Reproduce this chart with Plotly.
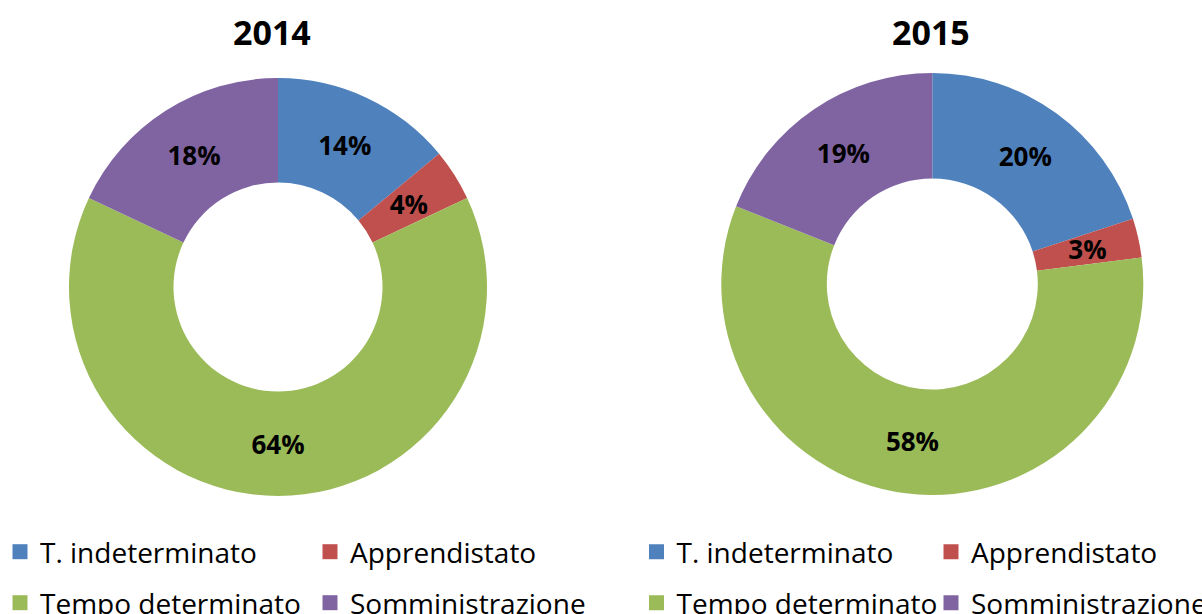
import plotly.graph_objects as go

categories = ["T. indeterminato", "Apprendistato", "Tempo determinato", "Somministrazione"]
years = ["2014", "2015"]
values_2014 = [14, 4, 64, 18]
values_2015 = [20, 3, 58, 19]
colors = ["#4F81BD", "#C0504D", "#9BBB59", "#8064A2"]

W, H = 1202, 614

def px_x(v):
    return v / W

def px_y(v):
    return 1 - v / H

# pie geometry (pixels): center x, center y, outer radius
pie_geo = [(278, 287, 209), (932.3, 284, 211)]
# radius / hole of the thin text-only ring used for the labels of narrow slices
label_ring = [(167.6, 0.85), (171.9, 0.85)]
title_pos = [(272, 32), (931, 32)]
legend_left = [0, 636.5]
legend_entry = [265, 249.5]
legend_rows_y = [552, 603]
SMALL = 5  # slices below this share get their label from the ring trace

LABEL_FONT = dict(family="Open Sans", size=26, color="black", weight="bold")

fig = go.Figure()

for i, (yr, vals) in enumerate(zip(years, [values_2014, values_2015])):
    cx, cy, r = pie_geo[i]
    big_tpl = ["%{percent:.0%}" if v >= SMALL else "" for v in vals]
    small_tpl = ["%{percent:.0%}" if v < SMALL else "" for v in vals]
    fig.add_trace(go.Pie(
        labels=categories,
        values=vals,
        sort=False,
        direction="clockwise",
        rotation=0,
        hole=0.5,
        domain=dict(x=[px_x(cx - r), px_x(cx + r)], y=[px_y(cy + r), px_y(cy - r)]),
        marker=dict(colors=colors, line=dict(width=0)),
        texttemplate=big_tpl,
        textposition="inside",
        insidetextorientation="horizontal",
        textfont=LABEL_FONT,
        showlegend=False,
        hoverinfo="label+percent",
    ))
    rr, hh = label_ring[i]
    fig.add_trace(go.Pie(
        labels=categories,
        values=vals,
        sort=False,
        direction="clockwise",
        rotation=0,
        hole=hh,
        domain=dict(x=[px_x(cx - rr), px_x(cx + rr)], y=[px_y(cy + rr), px_y(cy - rr)]),
        marker=dict(colors=["rgba(0,0,0,0)"] * len(vals), line=dict(width=0)),
        texttemplate=small_tpl,
        textposition="inside",
        insidetextorientation="horizontal",
        textfont=LABEL_FONT,
        showlegend=False,
        hoverinfo="skip",
    ))

legend_layouts = {}
n = 0
for i, yr in enumerate(years):
    for row in range(2):
        n += 1
        lname = "legend" if n == 1 else f"legend{n}"
        for k in range(2):
            idx = row * 2 + k
            fig.add_trace(go.Scatter(
                x=[None], y=[None], mode="markers",
                marker=dict(symbol="square", size=15, color=colors[idx]),
                name=categories[idx], legend=lname, hoverinfo="skip",
            ))
        legend_layouts[lname] = dict(
            x=px_x(legend_left[i]), xanchor="left",
            y=px_y(legend_rows_y[row]), yanchor="middle",
            orientation="h", entrywidth=legend_entry[i], entrywidthmode="pixels",
            font=dict(family="Open Sans", size=28, color="black"),
            bgcolor="rgba(0,0,0,0)", borderwidth=0,
            itemclick=False, itemdoubleclick=False,
        )

annotations = []
for i, yr in enumerate(years):
    tx, ty = title_pos[i]
    annotations.append(dict(
        text=yr, x=px_x(tx), y=px_y(ty), xref="paper", yref="paper",
        xanchor="center", yanchor="middle", showarrow=False,
        font=dict(family="Open Sans", size=34, color="black", weight="bold"),
    ))

fig.update_layout(
    width=W, height=H,
    margin=dict(l=0, r=0, t=0, b=0, autoexpand=False),
    paper_bgcolor="white", plot_bgcolor="white",
    xaxis=dict(visible=False), yaxis=dict(visible=False),
    uniformtext=dict(minsize=26, mode="show"),
    annotations=annotations,
    **legend_layouts,
)

fig.write_html(
    "out.html",
    config={"displayModeBar": False},
    post_script="document.body.style.margin='0';document.body.style.overflow='hidden';",
)
